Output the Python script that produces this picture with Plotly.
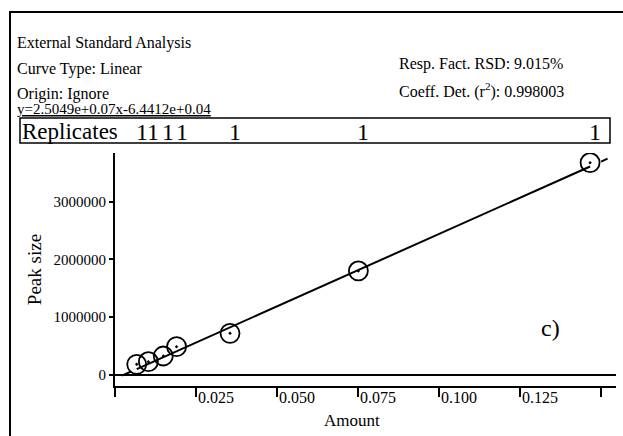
import plotly.graph_objects as go

# ---- data ----
amount = [0.0067, 0.0103, 0.0149, 0.0190, 0.0355, 0.0751, 0.1466]
peak_size = [185000, 230000, 329000, 490000, 721000, 1800000, 3673000]
replicates = ["1", "1", "1", "1", "1", "1", "1"]
slope = 2.5049e7
intercept = -6.4412e4
fit_x_solid = [0.0067, 0.1466]
fit_x_ext_lo = [0.0021, 0.0050]
fit_x_ext_hi = [0.1500, 0.1520]
x_tickvals = [0.025, 0.050, 0.075, 0.100, 0.125]
x_ticktext = ["0.025", "0.050", "0.075", "0.100", "0.125"]
y_tickvals = [0, 1000000, 2000000, 3000000]
y_ticktext = ["0", "1000000", "2000000", "3000000"]

W, H = 623, 436
L, R, T, B = 115, 7, 153, 50
PW, PH = W - L - R, H - T - B


def px(x):
    return (x - L) / PW


def py(y):
    return (H - B - y) / PH


FONT = "Liberation Serif"
fig = go.Figure()

fit = lambda xs: [slope * x + intercept for x in xs]

fig.add_trace(go.Scatter(x=fit_x_solid, y=fit(fit_x_solid), mode="lines",
                         line=dict(color="black", width=2), hoverinfo="skip",
                         showlegend=False))
for seg in (fit_x_ext_lo, fit_x_ext_hi):
    fig.add_trace(go.Scatter(x=seg, y=fit(seg), mode="lines",
                             line=dict(color="black", width=2), hoverinfo="skip",
                             showlegend=False))
fig.add_trace(go.Scatter(x=amount, y=peak_size, mode="markers",
                         marker=dict(symbol="circle-open-dot", size=19,
                                     color="black", line=dict(color="black", width=1.8)),
                         showlegend=False))

fig.update_xaxes(range=[0, 0.1546], tickvals=x_tickvals, ticktext=x_ticktext,
                 ticks="outside", ticklen=9, tickwidth=2, tickcolor="black",
                 minor=dict(tick0=0, dtick=0.025, ticks="outside", ticklen=9,
                            tickwidth=2, tickcolor="black", showgrid=False),
                 showline=True, linewidth=2, linecolor="black", showgrid=False,
                 zeroline=False, ticklabelposition="outside right",
                 ticklabelstandoff=-4,
                 tickfont=dict(family=FONT, size=16, color="black"),
                 automargin=False)
fig.update_yaxes(range=[-190000, 3841000], tickvals=y_tickvals, ticktext=y_ticktext,
                 ticks="outside", ticklen=4, tickwidth=1.5, tickcolor="black",
                 showline=True, linewidth=2, linecolor="black", showgrid=False,
                 zeroline=True, zerolinewidth=2, zerolinecolor="black",
                 tickfont=dict(family=FONT, size=15, color="black"),
                 title=dict(text="Peak size", font=dict(family=FONT, size=19, color="black"),
                            standoff=7),
                 automargin=False)

shapes = [
    # outer frame (top and left)
    dict(type="line", xref="paper", yref="paper", x0=px(9), x1=px(623), y0=py(12), y1=py(12),
         line=dict(color="black", width=2)),
    dict(type="line", xref="paper", yref="paper", x0=px(10), x1=px(10), y0=py(12), y1=py(436),
         line=dict(color="black", width=2)),
    # replicates box
    dict(type="rect", xref="paper", yref="paper", x0=px(20), x1=px(610), y0=py(118), y1=py(143),
         line=dict(color="black", width=1.5)),
]

annotations = []


def txt(text, x, y, size=16, xanchor="left"):
    annotations.append(dict(text=text, xref="paper", yref="paper", x=px(x), y=py(y),
                            xanchor=xanchor, yanchor="middle", showarrow=False,
                            font=dict(family=FONT, size=size, color="black")))


txt("External Standard Analysis", 15, 43)
txt("Curve Type: Linear", 15, 69)
txt("Origin: Ignore", 15, 94)
txt("<u>y=2.5049e+0.07x-6.4412e+0.04</u>", 15, 109, size=15)
txt("Resp. Fact. RSD: 9.015%", 397, 64)
txt("Coeff. Det. (r<sup>2</sup>): 0.998003", 397, 90)
txt("Replicates", 20, 131, size=23)
txt("c)", 550, 328, size=24, xanchor="center")
txt("Amount", 352, 420, size=17, xanchor="center")

for xv, r in zip(amount, replicates):
    annotations.append(dict(text=r, xref="x", yref="paper", x=xv, y=py(132), xshift=5,
                            xanchor="center", yanchor="middle", showarrow=False,
                            font=dict(family=FONT, size=24, color="black")))

fig.update_layout(width=W, height=H, margin=dict(l=L, r=R, t=T, b=B),
                  paper_bgcolor="white", plot_bgcolor="white",
                  shapes=shapes, annotations=annotations, showlegend=False)

fig.write_html("out.html")
